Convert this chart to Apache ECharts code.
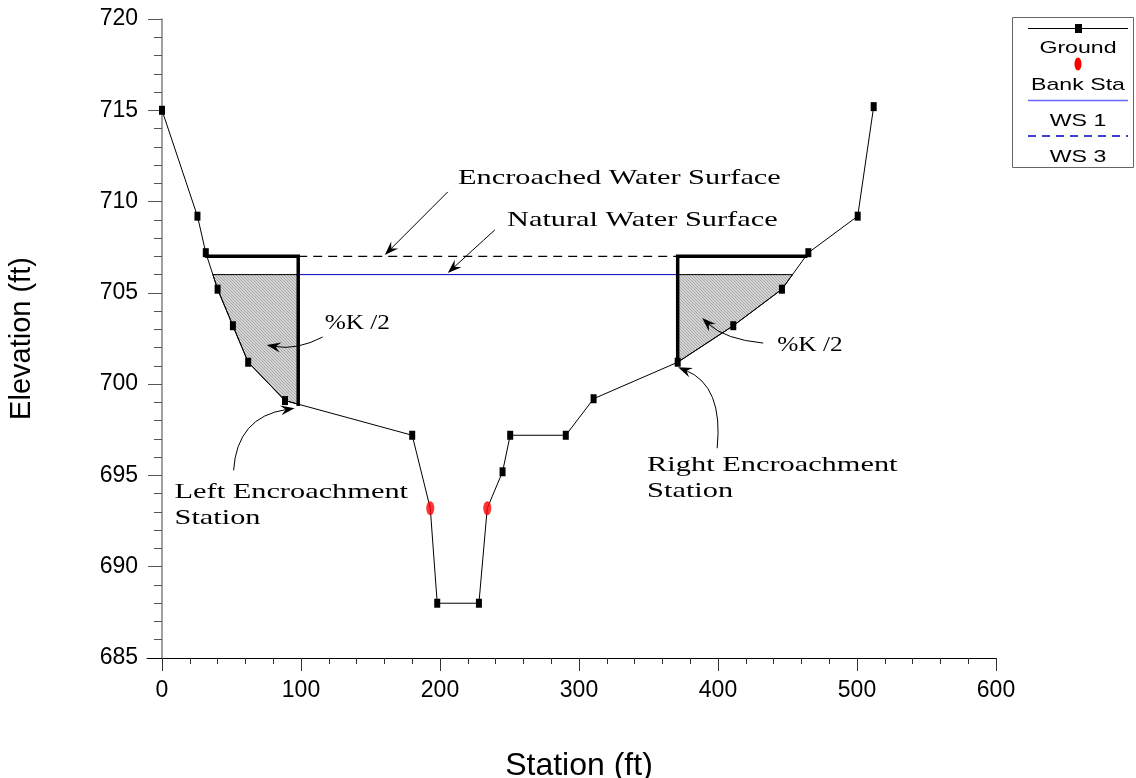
<!DOCTYPE html>
<html>
<head>
<meta charset="utf-8">
<script src="https://cdn.jsdelivr.net/npm/echarts@6/dist/echarts.min.js"></script>
<style>
html,body{margin:0;padding:0;background:#fff;}
#chart{width:1136px;height:778px;}
</style>
</head>
<body>
<div id="chart"></div>
<script>
// ---- data ----
const groundX = [0, 25.5, 31.5, 40, 51, 62, 88.5, 180, 193, 198, 228, 234, 245, 250.5, 290.5, 310.5, 371, 411, 446, 465, 500.5, 512];
const groundY = [715.0, 709.2, 707.2, 705.2, 703.2, 701.2, 699.1, 697.2, 693.2, 688.0, 688.0, 693.2, 695.2, 697.2, 697.2, 699.2, 701.2, 703.2, 705.2, 707.2, 709.2, 715.2];
const bankX = [193, 234];
const bankY = [693.2, 693.2];
const ws1Level = 706.0;      // natural water surface
const ws3Level = 707.0;      // encroached water surface
const encrLeft = 98;         // left encroachment station
const encrRight = 371;       // right encroachment station
const xTicks = [0, 100, 200, 300, 400, 500, 600];
const yTicks = [685, 690, 695, 700, 705, 710, 715, 720];

// annotations (data units)
const annText  = ['Encroached Water Surface', 'Natural Water Surface', '%K /2', 'Left Encroachment\nStation', '%K /2', 'Right Encroachment\nStation'];
const annTextX = [212.9, 248.2, 117.0, 9.0, 442.6, 349.0];
const annTextY = [711.3, 709.0, 703.35, 694.07, 702.14, 695.55];
const annFromX = [205.6, 239.5, 115.6, 51.5, 432.5, 399.4];
const annFromY = [710.53, 708.45, 702.58, 695.28, 702.25, 696.49];
const annCtrlX = [182.9, 222.5, 97.0, 54.0, 405.0, 404.0];
const annCtrlY = [708.8, 707.27, 701.85, 698.2, 702.45, 699.9];
const annTipX  = [160.3, 205.6, 75.3, 95.4, 388.6, 371.3];
const annTipY  = [707.08, 706.09, 702.14, 698.68, 703.62, 700.93];

// ---- derived geometry ----
function groundAt(x){
  for(let i=0;i<groundX.length-1;i++){
    if(x>=groundX[i] && x<=groundX[i+1]){
      const t=(x-groundX[i])/(groundX[i+1]-groundX[i]);
      return groundY[i]+t*(groundY[i+1]-groundY[i]);
    }
  }
  return null;
}
function leftCross(level, limit){
  for(let i=0;i<groundX.length-1;i++){
    if(groundX[i+1]>limit) break;
    if(groundY[i]>=level && groundY[i+1]<=level){
      return groundX[i]+(groundY[i]-level)/(groundY[i]-groundY[i+1])*(groundX[i+1]-groundX[i]);
    }
  }
  return null;
}
function rightCross(level, limit){
  for(let i=groundX.length-2;i>=0;i--){
    if(groundX[i]<limit) break;
    if(groundY[i]<=level && groundY[i+1]>=level){
      return groundX[i]+(level-groundY[i])/(groundY[i+1]-groundY[i])*(groundX[i+1]-groundX[i]);
    }
  }
  return null;
}
const xL1 = leftCross(ws1Level, encrLeft), xR1 = rightCross(ws1Level, encrRight);
const xL3 = leftCross(ws3Level, encrLeft), xR3 = rightCross(ws3Level, encrRight);
const gL = groundAt(encrLeft), gR = groundAt(encrRight);

const polyLeft = [[xL1, ws1Level]];
groundX.forEach((x,i)=>{ if(x>xL1 && x<encrLeft) polyLeft.push([x, groundY[i]]); });
polyLeft.push([encrLeft, gL], [encrLeft, ws1Level]);
const polyRight = [[encrRight, ws1Level], [encrRight, gR]];
groundX.forEach((x,i)=>{ if(x>encrRight && x<xR1) polyRight.push([x, groundY[i]]); });
polyRight.push([xR1, ws1Level]);

const encrLineLeft = [[xL3, ws3Level], [encrLeft, ws3Level], [encrLeft, gL]];
const encrLineRight = [[encrRight, gR], [encrRight, ws3Level], [xR3, ws3Level]];

// hatch pattern
const pat = document.createElement('canvas');
pat.width = 3; pat.height = 3;
(function(){
  const c = pat.getContext('2d');
  c.fillStyle = '#d4d4d4'; c.fillRect(0,0,3,3);
  c.fillStyle = '#a8a8a8';
  c.fillRect(0,0,1,1); c.fillRect(1,1,1,1); c.fillRect(2,2,1,1);
})();

const serif = '"Liberation Serif","Times New Roman",serif';
const sans = '"Liberation Sans",Arial,sans-serif';
const ANN_SX = [1.38, 1.38, 1.15, 1.38, 1.15, 1.38];   // horizontal stretch of the reference's text
const LEG_SX = 1.36;

const chart = echarts.init(document.getElementById('chart'), null, {renderer:'canvas'});

function polySeries(poly){
  return {
    type:'custom', silent:true, z:1, clip:false,
    data:[0],
    renderItem:(params, api)=>({
      type:'polygon',
      shape:{points: poly.map(p=>api.coord(p))},
      style:{fill:{type:'pattern', image:pat, repeat:'repeat'}, stroke:'#000', lineWidth:1}
    })
  };
}

function legText(txt, y){
  return {type:'text', x:1078, y:y, scaleX:LEG_SX, z:11,
    style:{text:txt, font:'17px '+sans, fill:'#000', align:'center', verticalAlign:'middle'}};
}

const option = {
  animation:false,
  backgroundColor:'#fff',
  grid:{left:162, right:140, top:19, bottom:120, outerBoundsMode:'none'},
  xAxis:{
    type:'value', min:xTicks[0], max:xTicks[xTicks.length-1], interval:100,
    name:'Station (ft)', nameLocation:'middle', nameGap:92,
    nameTextStyle:{fontFamily:sans, fontSize:32, color:'#000'},
    axisLine:{onZero:false, lineStyle:{color:'#000', width:1}},
    axisTick:{show:true, length:13, lineStyle:{color:'#333'}},
    minorTick:{show:true, splitNumber:5, length:6, lineStyle:{color:'#333'}},
    axisLabel:{fontFamily:sans, fontSize:23, color:'#000', margin:21},
    splitLine:{show:false}
  },
  yAxis:{
    type:'value', min:yTicks[0], max:yTicks[yTicks.length-1], interval:5,
    name:'Elevation (ft)', nameLocation:'middle', nameGap:126, nameRotate:90,
    nameTextStyle:{fontFamily:sans, fontSize:29, color:'#000'},
    axisLine:{onZero:false, lineStyle:{color:'#808080', width:1.5}},
    axisTick:{show:true, length:14, lineStyle:{color:'#555'}},
    minorTick:{show:true, splitNumber:5, length:8, lineStyle:{color:'#555'}},
    axisLabel:{fontFamily:sans, fontSize:23, color:'#000', margin:24},
    splitLine:{show:false}
  },
  series:[
    polySeries(polyLeft),
    polySeries(polyRight),
    {
      name:'WS 1', type:'line', z:2, silent:true, symbol:'none',
      data:[[encrLeft, ws1Level],[encrRight, ws1Level]],
      lineStyle:{color:'#0000cc', width:1}
    },
    {
      name:'WS 3', type:'line', z:2, silent:true, symbol:'none',
      data:[[encrLeft, ws3Level],[encrRight, ws3Level]],
      lineStyle:{color:'#000', width:1.2, type:[9,6]}
    },
    {
      type:'line', z:3, silent:true, symbol:'none', data:encrLineLeft,
      lineStyle:{color:'#000', width:3.5, join:'miter', cap:'square'}
    },
    {
      type:'line', z:3, silent:true, symbol:'none', data:encrLineRight,
      lineStyle:{color:'#000', width:3.5, join:'miter', cap:'square'}
    },
    {
      name:'Ground', type:'line', z:4, silent:true,
      data: groundX.map((x,i)=>({value:[x, groundY[i]], symbol: bankX.indexOf(x)>=0 ? 'none' : 'rect'})),
      symbol:'rect', symbolSize:[6,9], showAllSymbol:true,
      itemStyle:{color:'#000'},
      lineStyle:{color:'#000', width:1}
    },
    {
      name:'Bank Sta', type:'scatter', z:5, silent:true,
      data: bankX.map((x,i)=>[x, bankY[i]]),
      symbol:'circle', symbolSize:[8,14],
      itemStyle:{color:'#ff0000'}
    },
    {
      type:'custom', silent:true, z:6, clip:false,
      data: annText.map((t,i)=>i),
      renderItem:(params, api)=>{
        const i = params.dataIndex;
        const s = api.coord([annFromX[i], annFromY[i]]);
        const c = api.coord([annCtrlX[i], annCtrlY[i]]);
        const t = api.coord([annTipX[i], annTipY[i]]);
        const tp = api.coord([annTextX[i], annTextY[i]]);
        let dx = t[0]-c[0], dy = t[1]-c[1];
        const len = Math.sqrt(dx*dx+dy*dy) || 1;
        const ux = dx/len, uy = dy/len, nx = -uy, ny = ux;
        const L = 14, W = 5;
        const end = [t[0]-ux*L*0.6, t[1]-uy*L*0.6];
        return {
          type:'group',
          children:[
            {type:'bezierCurve', shape:{x1:s[0], y1:s[1], x2:end[0], y2:end[1], cpx1:c[0], cpy1:c[1]},
             style:{stroke:'#000', lineWidth:1, fill:null}},
            {type:'polygon', shape:{points:[
              [t[0], t[1]],
              [t[0]-ux*L+nx*W, t[1]-uy*L+ny*W],
              [t[0]-ux*L*0.65, t[1]-uy*L*0.65],
              [t[0]-ux*L-nx*W, t[1]-uy*L-ny*W]
            ]}, style:{fill:'#000'}},
            {type:'text', x:tp[0], y:tp[1]-13, scaleX:ANN_SX[i],
             style:{text:annText[i], fill:'#000', font:'22px '+serif, align:'left', verticalAlign:'top', lineHeight:26}}
          ]
        };
      }
    },
    {
      type:'custom', silent:true, z:1, clip:false, data:[0],
      renderItem:(params, api)=>{
        const a = api.coord([-11, yTicks[0]]), b = api.coord([xTicks[0], yTicks[0]]);
        return {type:'line', shape:{x1:a[0], y1:Math.round(a[1])+0.5, x2:b[0], y2:Math.round(b[1])+0.5}, style:{stroke:'#000', lineWidth:1}};
      }
    }
  ],
  graphic:[
    {type:'rect', shape:{x:1012.5, y:17.5, width:121, height:150}, style:{fill:'#fff', stroke:'#666', lineWidth:1}, z:10},
    {type:'line', shape:{x1:1028, y1:28.5, x2:1128, y2:28.5}, style:{stroke:'#000', lineWidth:1}, z:11},
    {type:'rect', shape:{x:1075, y:24, width:7, height:9}, style:{fill:'#000'}, z:11},
    legText('Ground', 48),
    {type:'ellipse', shape:{cx:1078, cy:64, rx:3.5, ry:6.5}, style:{fill:'#ff0000'}, z:11},
    legText('Bank Sta', 85),
    {type:'line', shape:{x1:1028, y1:100.5, x2:1128, y2:100.5}, style:{stroke:'#6666ff', lineWidth:1.5}, z:11},
    legText('WS 1', 121),
    {type:'line', shape:{x1:1028, y1:136, x2:1128, y2:136}, style:{stroke:'#0000cc', lineWidth:1.5, lineDash:[8,6]}, z:11},
    legText('WS 3', 157)
  ]
};
chart.setOption(option);
</script>
</body>
</html>
